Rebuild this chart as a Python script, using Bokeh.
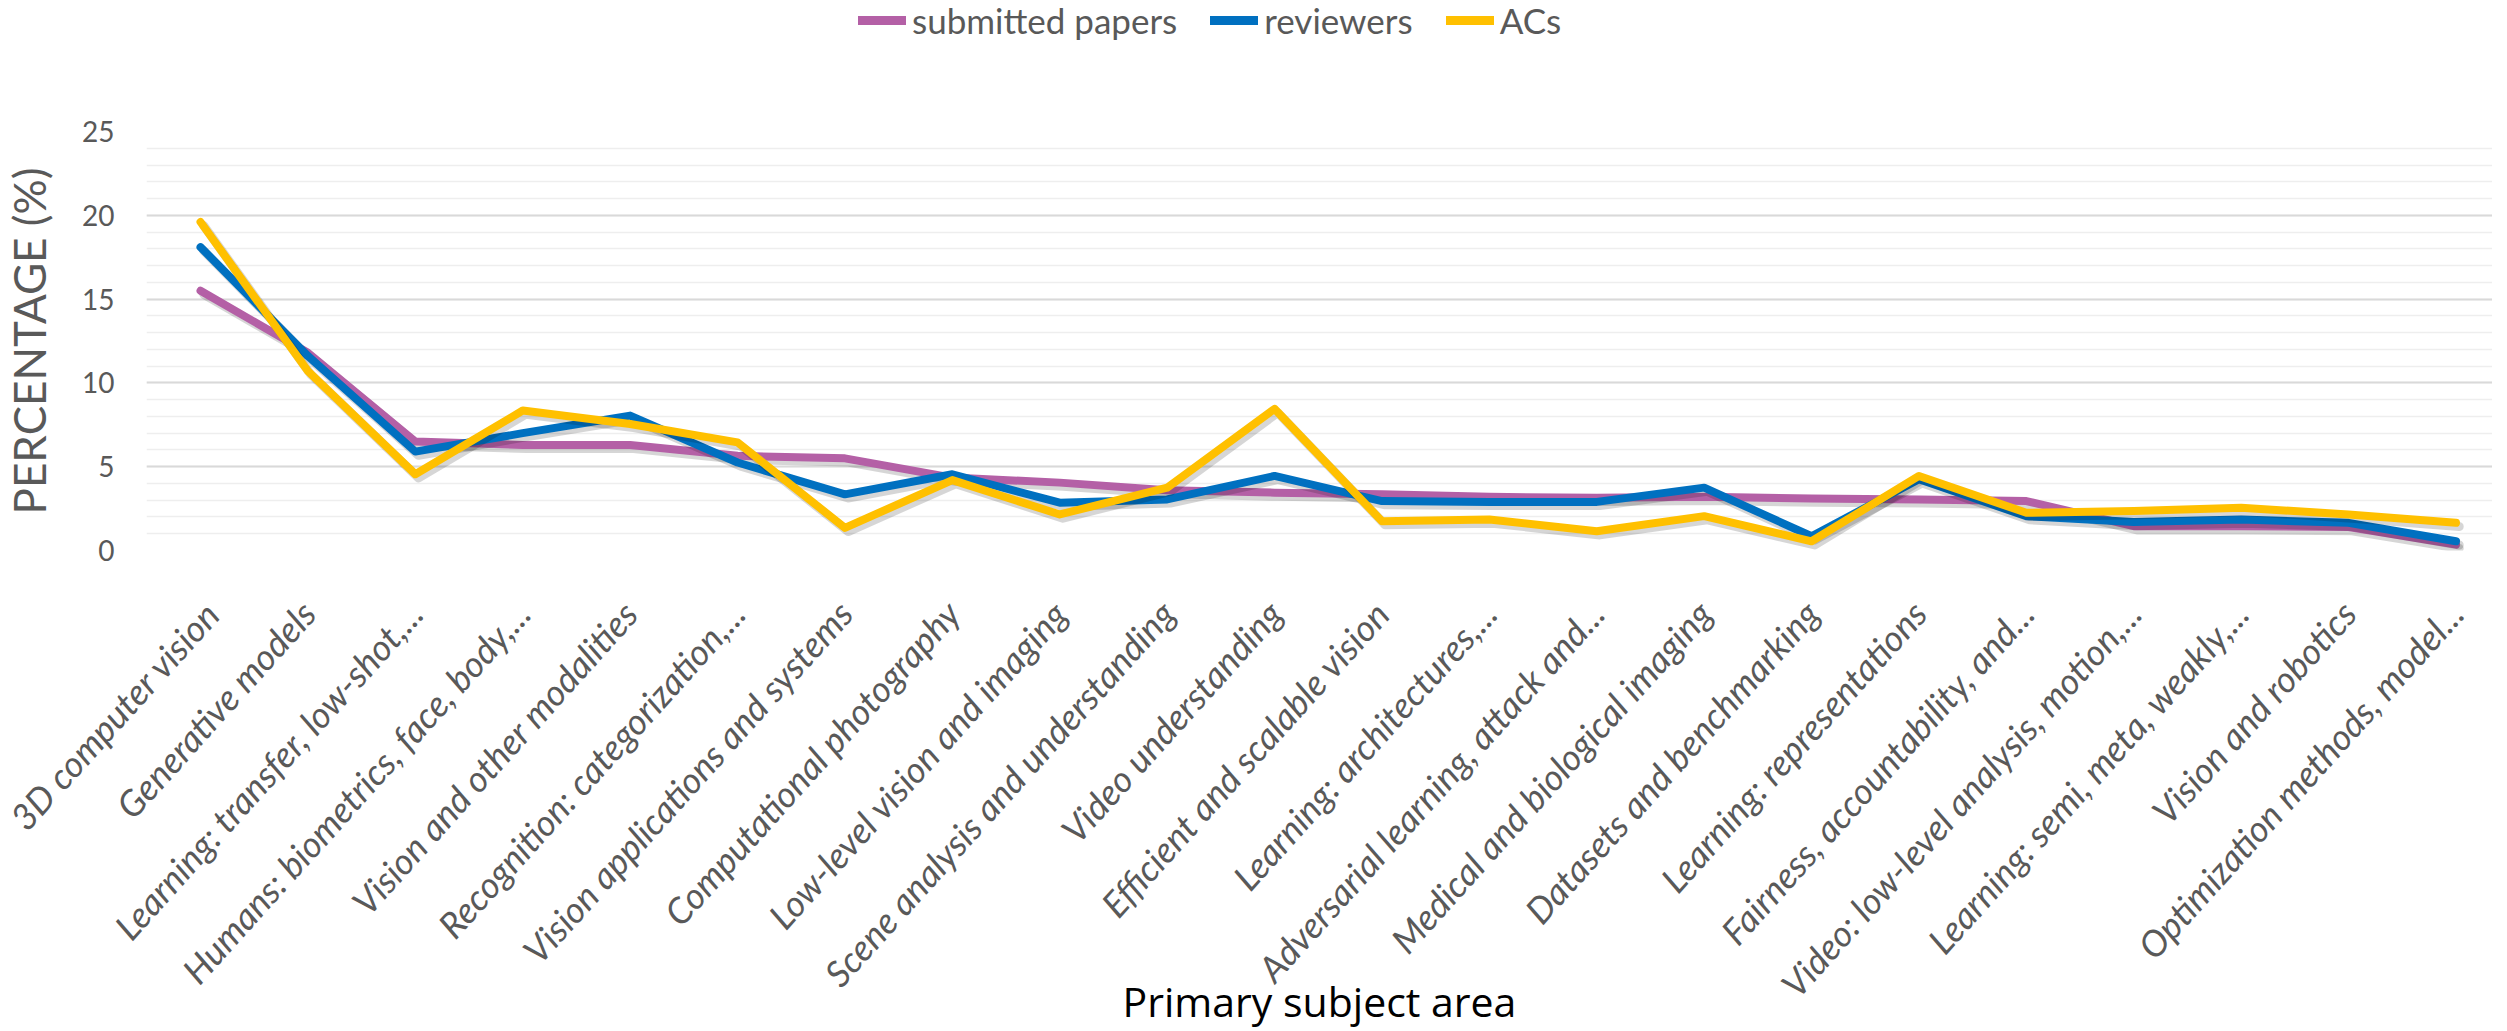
import math
from bokeh.plotting import figure
from bokeh.layouts import column
from bokeh.models import (ColumnDataSource, Range1d, FixedTicker, SingleIntervalTicker,
                          Legend, LegendItem)
from bokeh.transform import dodge
from bokeh.embed import file_html
from bokeh.resources import INLINE

categories = [
    "3D computer vision", "Generative models", "Learning: transfer, low-shot,...",
    "Humans: biometrics, face, body,...", "Vision and other modalities",
    "Recognition: categorization,...", "Vision applications and systems",
    "Computational photography", "Low-level vision and imaging",
    "Scene analysis and understanding", "Video understanding",
    "Efficient and scalable vision", "Learning: architectures,...",
    "Adversarial learning, attack and...", "Medical and biological imaging",
    "Datasets and benchmarking", "Learning: representations",
    "Fairness, accountability, and...", "Video: low-level analysis, motion,...",
    "Learning: semi, meta, weakly,...", "Vision and robotics",
    "Optimization methods, model...",
]
papers = [15.5, 11.8, 6.5, 6.3, 6.3, 5.65, 5.5, 4.35, 4.05, 3.6, 3.45, 3.35,
          3.2, 3.15, 3.2, 3.1, 3.05, 2.95, 1.45, 1.45, 1.4, 0.35]
reviewers = [18.1, 11.6, 5.9, 7.0, 8.05, 5.25, 3.35, 4.55, 2.85, 3.05, 4.45, 2.95,
             2.9, 2.9, 3.75, 0.85, 4.25, 2.05, 1.7, 1.85, 1.65, 0.55]
acs = [19.6, 10.7, 4.55, 8.35, 7.55, 6.45, 1.35, 4.2, 2.15, 3.75, 8.45, 1.75,
       1.85, 1.15, 2.05, 0.55, 4.45, 2.25, 2.35, 2.55, 2.15, 1.65]
series_names = ["submitted papers", "reviewers", "ACs"]
series_cols = ["papers", "reviewers", "acs"]
series_colors = ["#B460A6", "#0070C0", "#FFC000"]
y_ticks_interval = 5
y_max = 25

idx = list(range(len(categories)))
src = ColumnDataSource(dict(x=idx, papers=papers, reviewers=reviewers, acs=acs))

FULL_W = 2491

# ---------- legend strip (top); its lines lie outside its visible range ----------
top = figure(width=FULL_W, height=111, output_backend="svg", toolbar_location=None,
             x_axis_type=None, y_axis_type=None,
             x_range=Range1d(-0.503, 21.34), y_range=Range1d(1000, 1001),
             min_border_left=145, min_border_right=0, min_border_top=0, min_border_bottom=0)
top.outline_line_color = None
top.grid.visible = False
leg_renderers = [top.line(x="x", y=c, source=src, line_color=color, line_width=9,
                          line_cap="round")
                 for c, color in zip(series_cols, series_colors)]
legend = Legend(items=[LegendItem(label=n, renderers=[r]) for n, r in zip(series_names, leg_renderers)],
                orientation="horizontal", location=(712, 70),
                border_line_color=None, background_fill_alpha=0,
                padding=0, margin=0, spacing=33, label_standoff=6,
                glyph_width=48, glyph_height=40, label_height=40,
                label_text_font="Lato", label_text_font_size="35px",
                label_text_color="#595959")
top.add_layout(legend)

# ---------- main chart ----------
p = figure(frame_width=2346, frame_height=419, output_backend="svg", toolbar_location=None,
           x_range=Range1d(-0.503, 21.34), y_range=Range1d(0, y_max),
           min_border_left=145, min_border_top=20, min_border_right=0,
           min_border_bottom=440)
p.outline_line_color = None
p.background_fill_color = "white"
p.border_fill_color = "white"

for col, color in zip(series_cols, series_colors):
    p.line(x=dodge("x", 0.03), y=dodge(col, -0.22), source=src, line_color="black",
           line_alpha=0.16, line_width=9, line_join="round", line_cap="round")
    p.line(x="x", y=col, source=src, line_color=color, line_width=8,
           line_join="round", line_cap="round")

p.xaxis.ticker = FixedTicker(ticks=idx)
p.xaxis.major_label_overrides = {i: c for i, c in zip(idx, categories)}
p.xaxis.major_label_orientation = math.radians(48)
p.xaxis.major_label_text_font = "Lato"
p.xaxis.major_label_text_font_style = "italic"
p.xaxis.major_label_text_font_size = "36px"
p.xaxis.major_label_text_color = "#595959"
p.xaxis.major_label_standoff = 50
p.xaxis.axis_line_color = None
p.xaxis.major_tick_line_color = None
p.xaxis.minor_tick_line_color = None
p.xaxis.axis_label = "Primary subject area"
p.xaxis.axis_label_text_font = "Open Sans"
p.xaxis.axis_label_text_font_style = "normal"
p.xaxis.axis_label_text_font_size = "41px"
p.xaxis.axis_label_text_color = "black"
p.xaxis.axis_label_standoff = -50

p.yaxis.ticker = SingleIntervalTicker(interval=y_ticks_interval, num_minor_ticks=5)
p.yaxis.major_label_text_font = "Lato"
p.yaxis.major_label_text_font_size = "28px"
p.yaxis.major_label_text_color = "#595959"
p.yaxis.major_label_standoff = 26
p.yaxis.axis_line_color = None
p.yaxis.major_tick_line_color = None
p.yaxis.minor_tick_line_color = None
p.yaxis.axis_label = "PERCENTAGE (%)"
p.yaxis.axis_label_text_font = "Lato"
p.yaxis.axis_label_text_font_style = "normal"
p.yaxis.axis_label_text_font_size = "44px"
p.yaxis.axis_label_text_color = "#595959"
p.yaxis.axis_label_standoff = 24

p.xgrid.grid_line_color = None
p.ygrid.grid_line_color = "#d9d9d9"
p.ygrid.grid_line_width = 2
p.ygrid.minor_grid_line_color = "#eeeeee"
p.ygrid.minor_grid_line_width = 1.5

layout = column(top, p, spacing=0)
open("out.html", "w").write(file_html(layout, INLINE))
